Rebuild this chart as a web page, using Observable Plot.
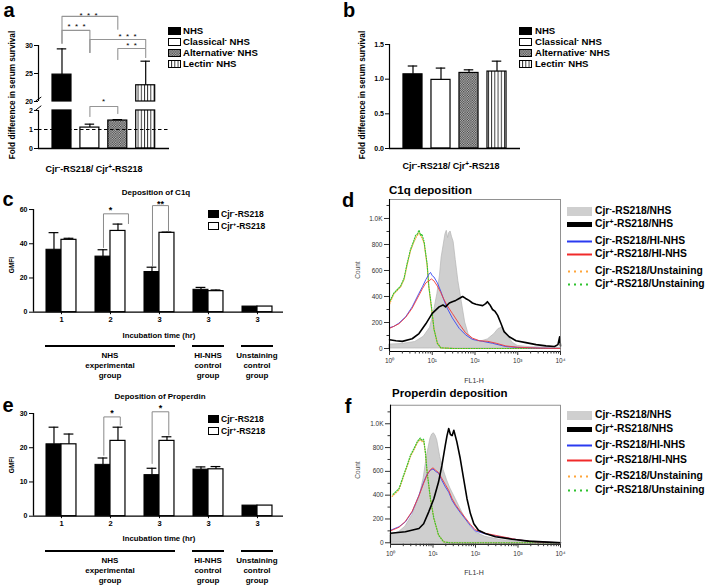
<!DOCTYPE html>
<html><head><meta charset="utf-8">
<script src="https://cdn.jsdelivr.net/npm/d3@7"></script>
<script src="https://cdn.jsdelivr.net/npm/@observablehq/plot@0.6"></script>
<style>
body{margin:0;background:#fff;}
#root{position:relative;width:709px;height:586px;overflow:hidden;font-family:"Liberation Sans",Arial,sans-serif;color:#000;}
.t{position:absolute;white-space:nowrap;line-height:1;}
.p{position:absolute;}
sup{font-size:0.72em;vertical-align:0;position:relative;top:-0.42em;font-weight:bold;}
</style></head><body>
<svg width="0" height="0" style="position:absolute">
<defs>
<pattern id="hatch" width="2.4" height="2.4" patternUnits="userSpaceOnUse"><rect width="2.4" height="2.4" fill="#c4c4c4"/><rect width="1.2" height="1.2" fill="#3a3a3a"/><rect x="1.2" y="1.2" width="1.2" height="1.2" fill="#3a3a3a"/></pattern>
<pattern id="vstripe" width="3.2" height="4" patternUnits="userSpaceOnUse"><rect width="3.2" height="4" fill="#fff"/><rect x="0" width="0.9" height="4" fill="#222"/></pattern>
</defs></svg>
<div id="root"></div>
<script>
// ================= DATA =================
const seraLabels = ["NHS", "Classical<sup>-</sup> NHS", "Alternative<sup>-</sup> NHS", "Lectin<sup>-</sup> NHS"];
const foldA = [24.8, 1.1, 1.47, 22.9];
const foldErrA = [29.4, 1.28, 1.52, 27.2];
const foldB = [1.07, 0.99, 1.09, 1.11];
const foldErrB = [1.19, 1.16, 1.135, 1.26];
const ratioLabel = "Cjr<sup>-</sup>-RS218/ Cjr<sup>+</sup>-RS218";
const sigUpperA = [
  {x1: 0, x2: 2, top: 35.2, l: 30.4, r: 32.9, label: "*  *  *", lx: 0.95, ly: 35.75},
  {x1: 0, x2: 1, top: 32.7, l: 30.4, r: 28.75, label: "*  *  *", lx: 0.52, ly: 33.75},
  {x1: 1, x2: 3, top: 31.07, l: 28.75, r: 29.64, label: "*  *  *", lx: 2.35, ly: 31.96},
  {x1: 2, x2: 3, top: 29.46, l: 27.5, r: 27.86, label: "*  *", lx: 2.49, ly: 30.36}
];
const sigLowerA = [{x1: 1, x2: 2, top: 2.21, l: 1.68, r: 1.84, label: "*", lx: 1.49, ly: 2.58}];

const strainLabels = ["Cjr<sup>-</sup>-RS218", "Cjr<sup>+</sup>-RS218"];
const timeLabels = ["1", "2", "3", "3", "3"];
const groupNames = [["NHS", "experimental", "group"], ["HI-NHS", "control", "group"], ["Unstaining", "control", "group"]];
const groupMembers = [[0, 1, 2], [3], [4]];
const c1qNeg = [36.5, 32.5, 23.5, 13.1, 3.3];
const c1qNegErr = [46.5, 36.5, 26.3, 14.5, null];
const c1qPos = [42.3, 47.5, 46.4, 12.3, 3.3];
const c1qPosErr = [43.2, 51.5, 46.8, 13.0, null];
const sigC = [
  {x1: 0.857, x2: 1.367, top: 57.5, l: 37.8, r: 51.8, label: "*", lx: 1.0, ly: 61.4},
  {x1: 1.857, x2: 2.184, top: 62.3, l: 27.0, r: 47.7, label: "**", lx: 2.02, ly: 64.9}
];
const propNeg = [21, 15, 12, 13.6, 3.1];
const propNegErr = [26, 17, 14, 14.4, null];
const propPos = [21, 22, 22, 13.7, 3.1];
const propPosErr = [24, 26, 23.2, 14.5, null];
const sigE = [
  {x1: 0.864, x2: 1.2, top: 29.0, l: 17.8, r: 26.6, label: "*", lx: 1.03, ly: 30.8},
  {x1: 1.85, x2: 2.19, top: 30.5, l: 15.4, r: 23.7, label: "*", lx: 2.02, ly: 32.4}
];

const histLabels = ["Cjr<sup>-</sup>-RS218/NHS", "Cjr<sup>+</sup>-RS218/NHS", "Cjr<sup>-</sup>-RS218/HI-NHS",
  "Cjr<sup>+</sup>-RS218/HI-NHS", "Cjr<sup>-</sup>-RS218/Unstaining", "Cjr<sup>+</sup>-RS218/Unstaining"];
const flTicks = [1, 10, 100, 1000, 10000];
const flTickLabels = ["10⁰", "10¹", "10²", "10³", "10⁴"];
const countTicks = [0, 200, 400, 600, 800, 1000];
const countLabels = ["0", "200", "400", "600", "800", "1.0K"];
// histogram series: [log10(FL1-H), count]
const dNegNHS = [[0,30],[0.3,35],[0.6,50],[0.8,90],[0.95,160],[1.05,300],[1.12,420],[1.18,560],[1.22,700],[1.27,800],[1.31,880],[1.34,905],[1.37,850],[1.40,890],[1.43,900],[1.46,860],[1.50,820],[1.55,680],[1.61,520],[1.69,360],[1.77,200],[1.85,110],[1.95,70],[2.1,50],[2.3,70],[2.45,110],[2.55,150],[2.63,160],[2.7,130],[2.78,90],[2.88,45],[3.0,20],[3.3,10],[4.0,5]];
const dPosNHS = [[0,67],[0.15,60],[0.3,55],[0.53,75],[0.69,115],[0.85,190],[1.0,270],[1.16,320],[1.25,335],[1.31,320],[1.4,350],[1.47,360],[1.55,370],[1.63,385],[1.71,400],[1.78,385],[1.86,370],[1.94,350],[2.02,340],[2.1,335],[2.18,330],[2.25,345],[2.29,360],[2.35,335],[2.41,300],[2.47,285],[2.53,255],[2.61,190],[2.68,130],[2.8,90],[2.96,60],[3.19,45],[3.43,30],[3.66,20],[3.86,15],[3.94,30],[3.98,90],[4.0,20]];
const dNegHI = [[0,160],[0.1,170],[0.22,195],[0.38,245],[0.53,320],[0.69,425],[0.77,475],[0.85,530],[0.92,570],[0.96,585],[1.0,560],[1.04,550],[1.12,505],[1.2,440],[1.27,375],[1.35,310],[1.47,235],[1.63,155],[1.78,105],[1.94,70],[2.18,55],[2.41,40],[2.72,15],[3.0,8],[3.5,3],[4.0,0]];
const dPosHI = [[0,155],[0.1,170],[0.22,190],[0.38,240],[0.53,310],[0.69,410],[0.77,460],[0.85,505],[0.92,520],[0.98,535],[1.04,520],[1.12,480],[1.2,430],[1.27,380],[1.35,330],[1.47,270],[1.63,190],[1.78,120],[1.94,80],[2.1,60],[2.3,55],[2.5,40],[2.72,20],[3.0,10],[3.5,3],[4.0,0]];
const dNegUn = [[0,340],[0.1,420],[0.26,475],[0.34,530],[0.41,640],[0.49,750],[0.57,820],[0.63,860],[0.69,890],[0.76,850],[0.81,810],[0.88,640],[0.92,470],[0.99,290],[1.04,150],[1.12,40],[1.2,5],[1.5,0],[4.0,0]];
const dPosUn = [[0,360],[0.1,425],[0.26,480],[0.34,540],[0.41,650],[0.49,760],[0.57,830],[0.61,870],[0.65,880],[0.69,910],[0.73,870],[0.76,880],[0.81,820],[0.88,650],[0.92,480],[0.99,300],[1.04,150],[1.12,40],[1.2,5],[1.5,0],[4.0,0]];
const fNegNHS = [[0,65],[0.2,90],[0.35,135],[0.51,230],[0.67,370],[0.78,540],[0.86,735],[0.94,875],[0.98,910],[1.02,920],[1.06,900],[1.1,860],[1.17,720],[1.25,610],[1.33,525],[1.41,455],[1.53,370],[1.64,290],[1.76,205],[1.88,135],[1.99,90],[2.23,50],[2.62,22],[3.0,10],[3.4,3],[4.0,0]];
const fPosNHS = [[0,80],[0.35,92],[0.67,120],[0.78,160],[0.9,260],[1.02,370],[1.13,510],[1.21,650],[1.29,820],[1.33,900],[1.37,960],[1.41,910],[1.45,900],[1.49,945],[1.56,850],[1.64,710],[1.72,540],[1.8,370],[1.88,245],[1.96,160],[2.07,105],[2.23,78],[2.47,50],[2.86,30],[3.25,14],[3.8,3],[4.0,0]];
const fNegHI = [[0,105],[0.2,135],[0.35,175],[0.51,260],[0.67,400],[0.78,510],[0.86,575],[0.94,610],[1.0,620],[1.06,600],[1.13,585],[1.2,530],[1.29,470],[1.37,425],[1.45,355],[1.53,310],[1.64,255],[1.76,200],[1.88,145],[1.99,100],[2.23,75],[2.62,48],[3.0,25],[3.4,8],[4.0,0]];
const fPosHI = [[0,100],[0.2,130],[0.35,180],[0.51,265],[0.67,395],[0.78,500],[0.86,570],[0.94,615],[1.0,630],[1.06,610],[1.13,590],[1.2,545],[1.29,490],[1.37,440],[1.45,370],[1.53,320],[1.64,265],[1.76,210],[1.88,155],[1.99,110],[2.23,80],[2.62,52],[3.0,25],[3.4,8],[4.0,0]];
const fNegUn = [[0.04,390],[0.2,445],[0.31,560],[0.39,640],[0.47,725],[0.55,780],[0.63,840],[0.7,870],[0.74,850],[0.78,860],[0.82,760],[0.86,600],[0.94,370],[1.02,205],[1.13,65],[1.25,8],[1.4,0],[4.0,0]];
const fPosUn = [[0.04,400],[0.2,455],[0.31,570],[0.39,650],[0.47,735],[0.55,790],[0.63,850],[0.7,880],[0.74,860],[0.78,870],[0.82,765],[0.86,600],[0.94,370],[1.02,205],[1.13,65],[1.25,8],[1.4,0],[4.0,0]];

// ================= STYLE / HELPERS =================
const seraFill = ["#000", "#fff", "url(#hatch)", "url(#vstripe)"];
const root = document.getElementById("root");
const FONT = "'Liberation Sans', Arial, Helvetica, sans-serif";
const styleBar = {background: "transparent", fontFamily: FONT, fontSize: "7px", fontWeight: "bold", color: "#000", overflow: "visible"};
const styleHist = {background: "transparent", fontFamily: FONT, fontSize: "6.5px", fontWeight: "normal", color: "#333", overflow: "visible"};

function place(node, left, top, w) {
  const d = document.createElement("div");
  d.className = "p"; d.style.left = left + "px"; d.style.top = top + "px"; d.style.width = w + "px";
  d.appendChild(node); root.appendChild(d); return d;
}
function text(html, x, y, o = {}) {
  const d = document.createElement("div");
  d.className = "t"; d.innerHTML = html;
  d.style.left = x + "px"; d.style.top = y + "px";
  const a = o.anchor || "middle";
  const tx = a === "middle" ? "-50%" : a === "end" ? "-100%" : "0";
  d.style.transform = `translate(${tx},-50%)` + (o.rotate ? ` rotate(${o.rotate}deg)` : "");
  d.style.fontSize = (o.size || 10) + "px";
  d.style.fontWeight = o.weight || "bold";
  if (o.color) d.style.color = o.color;
  if (o.ls) d.style.letterSpacing = o.ls;
  root.appendChild(d); return d;
}
function swatch(x, y, w, h, inner) {
  const d = document.createElement("div");
  d.className = "p"; d.style.left = x + "px"; d.style.top = y + "px";
  d.innerHTML = `<svg width="${w}" height="${h}" style="display:block;overflow:visible">${inner}</svg>`;
  root.appendChild(d);
}
function bracketPts(sig) {
  return sig.flatMap((b, k) => [[k, b.x1, b.l], [k, b.x1, b.top], [k, b.x2, b.top], [k, b.x2, b.r]]);
}

// ================= PANEL A =================
const idxA = foldA.map((_, i) => i);
const xDomA = [-0.842, 3.853];
const hiA = idxA.filter(i => foldA[i] > 2);
const loA = idxA.filter(i => foldA[i] <= 2);
const HW = 0.34, CAP = 0.17;
const aUpper = Plot.plot({
  width: 180, height: 102, marginLeft: 38, marginRight: 11, marginTop: 0, marginBottom: 1,
  x: {type: "linear", domain: xDomA, axis: null}, y: {type: "linear", domain: [20, 38.04]},
  color: {type: "identity"}, style: styleBar,
  marks: [
    Plot.rect(hiA, {x1: i => i - HW, x2: i => i + HW, y1: () => 20, y2: i => foldA[i], fill: i => seraFill[i], stroke: "#000", strokeWidth: 1.2}),
    Plot.ruleX(hiA, {x: i => i, y1: i => foldA[i], y2: i => foldErrA[i], strokeWidth: 1.2}),
    Plot.ruleY(hiA, {y: i => foldErrA[i], x1: i => i - CAP, x2: i => i + CAP, strokeWidth: 1.2}),
    Plot.line(bracketPts(sigUpperA), {x: d => d[1], y: d => d[2], z: d => d[0], stroke: "#959595", strokeWidth: 1.1}),
    Plot.text(sigUpperA, {x: d => d.lx, y: d => d.ly, text: d => d.label, fontSize: 8, fontWeight: "normal", dy: 2}),
    Plot.ruleX([xDomA[0]], {y1: () => 20, y2: () => 30, strokeWidth: 1.2}),
    Plot.link([xDomA[0]], {x1: d => d - 0.1, x2: d => d + 0.1, y1: () => 20.1, y2: () => 20.8, stroke: "#000", strokeWidth: 1}),
    Plot.axisY([20, 25, 30], {tickSize: 4, tickPadding: 1.5, label: null})
  ]
});
place(aUpper, 0, 0, 180);

const aLower = Plot.plot({
  width: 180, height: 62, marginLeft: 38, marginRight: 11, marginTop: 0, marginBottom: 4,
  x: {type: "linear", domain: xDomA, axis: null}, y: {type: "linear", domain: [0, 3.05]},
  color: {type: "identity"}, style: styleBar,
  marks: [
    Plot.rect(idxA, {x1: i => i - HW, x2: i => i + HW, y1: () => 0, y2: i => Math.min(foldA[i], 2), fill: i => seraFill[i], stroke: "#000", strokeWidth: 1.2}),
    Plot.ruleX(loA, {x: i => i, y1: i => foldA[i], y2: i => foldErrA[i], strokeWidth: 1.2}),
    Plot.ruleY(loA, {y: i => foldErrA[i], x1: i => i - CAP, x2: i => i + CAP, strokeWidth: 1.2}),
    Plot.ruleY([1], {x1: () => xDomA[0], x2: () => xDomA[1], strokeDasharray: "3.5,2.5", strokeWidth: 1.1}),
    Plot.line(bracketPts(sigLowerA), {x: d => d[1], y: d => d[2], z: d => d[0], stroke: "#959595", strokeWidth: 1.1}),
    Plot.text(sigLowerA, {x: d => d.lx, y: d => d.ly, text: d => d.label, fontSize: 8, fontWeight: "normal", dy: 2}),
    Plot.ruleX([xDomA[0]], {y1: () => 0, y2: () => 2, strokeWidth: 1.2}),
    Plot.link([xDomA[0]], {x1: d => d - 0.1, x2: d => d + 0.1, y1: () => 2.02, y2: () => 2.25, stroke: "#000", strokeWidth: 1}),
    Plot.ruleY([0], {x1: () => xDomA[0], x2: () => xDomA[1], strokeWidth: 1.3}),
    Plot.axisY([0, 1, 2], {tickSize: 4, tickPadding: 1.5, label: null})
  ]
});
place(aLower, 0, 90, 180);

// ================= PANEL B =================
const idxB = foldB.map((_, i) => i);
const xDomB = [-0.839, 3.839];
const bPlot = Plot.plot({
  width: 170, height: 160, marginLeft: 29, marginRight: 10, marginTop: 0, marginBottom: 12,
  x: {type: "linear", domain: xDomB, axis: null}, y: {type: "linear", domain: [0, 2.135]},
  color: {type: "identity"}, style: styleBar,
  marks: [
    Plot.rect(idxB, {x1: i => i - HW, x2: i => i + HW, y1: () => 0, y2: i => foldB[i], fill: i => seraFill[i], stroke: "#000", strokeWidth: 1.2}),
    Plot.ruleX(idxB, {x: i => i, y1: i => foldB[i], y2: i => foldErrB[i], strokeWidth: 1.2}),
    Plot.ruleY(idxB, {y: i => foldErrB[i], x1: i => i - CAP, x2: i => i + CAP, strokeWidth: 1.2}),
    Plot.ruleX([xDomB[0]], {y1: () => 0, y2: () => 1.5, strokeWidth: 1.2}),
    Plot.ruleY([0], {x1: () => xDomB[0], x2: () => xDomB[1], strokeWidth: 1.3}),
    Plot.axisY([0, 0.5, 1, 1.5], {tickSize: 4, tickPadding: 1.5, tickFormat: d3.format(".1f"), label: null})
  ]
});
place(bPlot, 360, 0, 170);

// legends a & b
[[168, 183], [519, 535]].forEach(([sx, tx]) => {
  seraLabels.forEach((lab, i) => {
    const yc = 31 + 11 * i;
    swatch(sx, yc - 4, 13, 8, `<rect x="0.5" y="0.5" width="12" height="7" fill="${seraFill[i]}" stroke="#000" stroke-width="1"/>`);
    text(lab, tx, yc, {anchor: "start", size: 9.6});
  });
});
text("a", 9, 10, {size: 20});
text("b", 349, 10, {size: 20});
text("Fold difference in serum survival", 13, 95, {size: 8.2, rotate: -90});
text("Fold difference in serum survival", 363, 95, {size: 8.2, rotate: -90});
text(ratioLabel, 94, 169, {size: 9});
text(ratioLabel, 451, 166, {size: 9});

// ================= PANELS C & E =================
function groupPlot(neg, negErr, pos, posErr, sig, g) {
  const idx = neg.map((_, i) => i);
  const W = 0.306, cap = 0.1;
  const eN = idx.filter(i => negErr[i] != null), eP = idx.filter(i => posErr[i] != null);
  return Plot.plot({
    width: g.w, height: g.h, marginLeft: g.mL, marginRight: g.mR, marginTop: 0, marginBottom: g.mB,
    x: {type: "linear", domain: g.xDom}, y: {type: "linear", domain: g.yDom},
    style: styleBar,
    marks: [
      Plot.rect(idx, {x1: i => i - W, x2: i => i, y1: () => 0, y2: i => neg[i], fill: "#000", stroke: "#000", strokeWidth: 1}),
      Plot.rect(idx, {x1: i => i, x2: i => i + W, y1: () => 0, y2: i => pos[i], fill: "#fff", stroke: "#000", strokeWidth: 1.2}),
      Plot.ruleX(eN, {x: i => i - W / 2, y1: i => neg[i], y2: i => negErr[i], strokeWidth: 1.2}),
      Plot.ruleY(eN, {y: i => negErr[i], x1: i => i - W / 2 - cap, x2: i => i - W / 2 + cap, strokeWidth: 1.2}),
      Plot.ruleX(eP, {x: i => i + W / 2, y1: i => pos[i], y2: i => posErr[i], strokeWidth: 1.2}),
      Plot.ruleY(eP, {y: i => posErr[i], x1: i => i + W / 2 - cap, x2: i => i + W / 2 + cap, strokeWidth: 1.2}),
      Plot.line(bracketPts(sig), {x: d => d[1], y: d => d[2], z: d => d[0], stroke: "#8a8a8a", strokeWidth: 1}),
      Plot.text(sig, {x: d => d.lx, y: d => d.ly, text: d => d.label, fontSize: 9, fontWeight: "bold", dy: 2.5}),
      Plot.ruleX([g.xDom[0]], {y1: () => 0, y2: () => g.yMax, strokeWidth: 1.3}),
      Plot.ruleY([0], {x1: () => g.xDom[0], x2: () => g.xDom[1], strokeWidth: 1.3}),
      Plot.axisY(g.yTicks, {tickSize: 4, tickPadding: 2, label: null}),
      Plot.axisX(idx, {tickSize: 2.5, tickPadding: 2, tickFormat: i => timeLabels[i], label: null, fontSize: 7.5})
    ]
  });
}
const geomC = {w: 290, h: 140, mL: 33, mR: 7, mB: 18.3, xDom: [-0.571, 4.531], yDom: [0, 71.13], yTicks: [0, 20, 40, 60], yMax: 60};
const geomE = {w: 290, h: 140, mL: 33, mR: 7, mB: 22.3, xDom: [-0.571, 4.531], yDom: [0, 34.38], yTicks: [0, 10, 20, 30], yMax: 30};
const cPlot = groupPlot(c1qNeg, c1qNegErr, c1qPos, c1qPosErr, sigC, geomC);
const ePlot = groupPlot(propNeg, propNegErr, propPos, propPosErr, sigE, geomE);
place(cPlot, 0, 190, 290);
place(ePlot, 0, 398, 290);

function groupDecor(plot, top, info) {
  const sx = plot.scale("x");
  const px = v => sx.apply(v);
  groupMembers.forEach((m, k) => {
    const x0 = px(m[0] - 0.33), x1 = px(m[m.length - 1] + 0.33);
    const d = document.createElement("div");
    d.className = "p";
    Object.assign(d.style, {left: x0 + "px", top: (info.lineY - 0.8) + "px", width: (x1 - x0) + "px", height: "1.6px", background: "#000"});
    root.appendChild(d);
    const cx = px((m[0] + m[m.length - 1]) / 2);
    groupNames[k].forEach((s, j) => text(s, cx, info.nameY + 10 * j, {size: 8}));
  });
  text("Incubation time (hr)", px(2), info.labelY, {size: 7.8});
  text("GMFI", 12, info.gmfiY, {size: 6.5, rotate: -90});
  strainLabels.forEach((lab, i) => {
    const yc = info.legY + 11.7 * i;
    swatch(208, yc - 4, 11, 8, `<rect x="0.5" y="0.5" width="10" height="7" fill="${i ? "#fff" : "#000"}" stroke="#000" stroke-width="1"/>`);
    text(lab, 221, yc, {anchor: "start", size: 8.5});
  });
  text(info.title, info.titleX, info.titleY, {size: 8});
}
groupDecor(cPlot, 190, {lineY: 346, nameY: 356, labelY: 336, gmfiY: 265, legY: 214, title: "Deposition of C1q", titleX: 156, titleY: 193});
groupDecor(ePlot, 398, {lineY: 551, nameY: 561, labelY: 539, gmfiY: 465, legY: 419, title: "Deposition of Properdin", titleX: 160, titleY: 397});
text("c", 8, 199, {size: 20});
text("e", 8, 405, {size: 20});

// ================= PANELS D & F =================
const minorX = [1, 10, 100, 1000].flatMap(b => [2, 3, 4, 5, 6, 7, 8, 9].map(k => k * b));
const minorY = [100, 300, 500, 700, 900, 1100];
function histPlot(s, g) {
  const X = d => 10 ** d[0], Y = d => d[1];
  return Plot.plot({
    width: 210, height: g.h, marginLeft: g.mL, marginRight: 5, marginTop: g.mT, marginBottom: g.mB,
    x: {type: "log", domain: [1, 1e4]}, y: {type: "linear", domain: g.yDom},
    style: styleHist,
    marks: [
      Plot.areaY(s.negNHS, {x: X, y: Y, fill: "#cfcfcf", stroke: "#b5b5b5", strokeWidth: 0.7}),
      Plot.line(s.negUn, {x: X, y: Y, stroke: "#ffa53a", strokeWidth: 1.2, strokeDasharray: "1,1.6"}),
      Plot.line(s.posUn, {x: X, y: Y, stroke: "#33c633", strokeWidth: 1.2, strokeDasharray: "1,1.6", strokeDashoffset: 1.3}),
      Plot.line(s.negHI, {x: X, y: Y, stroke: "#3a48f2", strokeWidth: 0.9}),
      Plot.line(s.posHI, {x: X, y: Y, stroke: "#f03a3a", strokeWidth: 0.9}),
      Plot.line(s.posNHS, {x: X, y: Y, stroke: "#000", strokeWidth: 1.6}),
      Plot.frame({stroke: "#777", strokeWidth: 0.8}),
      Plot.ruleX([1], {stroke: "#000", strokeWidth: 1.1}),
      Plot.ruleY([g.yDom[0]], {stroke: "#000", strokeWidth: 1.1}),
      Plot.axisX(flTicks, {tickSize: 4, tickPadding: 3, tickFormat: v => flTickLabels[Math.round(Math.log10(v))], label: null}),
      Plot.axisX(minorX, {tickSize: 2.5, tickFormat: () => "", label: null}),
      Plot.axisY(countTicks, {tickSize: 5, tickPadding: 2, tickFormat: v => countLabels[countTicks.indexOf(v)], label: null}),
      Plot.axisY(minorY, {tickSize: 2.5, tickFormat: () => "", label: null})
    ]
  });
}
const dPlot = histPlot({negNHS: dNegNHS, posNHS: dPosNHS, negHI: dNegHI, posHI: dPosHI, negUn: dNegUn, posUn: dPosUn},
  {h: 175, mL: 34, mT: 3, mB: 20, yDom: [-23, 1146]});
const fPlot = histPlot({negNHS: fNegNHS, posNHS: fPosNHS, negHI: fNegHI, posHI: fPosHI, negUn: fNegUn, posUn: fPosUn},
  {h: 165, mL: 35, mT: 4.7, mB: 21.3, yDom: [-12, 1156]});
place(dPlot, 355, 196, 210);
place(fPlot, 355, 400, 210);

const histSwatches = [
  `<rect x="0" y="0" width="25" height="9" fill="#cfcfcf"/>`,
  `<rect x="0" y="2" width="25" height="5" fill="#000"/>`,
  `<line x1="0" x2="25" y1="4.5" y2="4.5" stroke="#2a3bf0" stroke-width="2"/>`,
  `<line x1="0" x2="25" y1="4.5" y2="4.5" stroke="#f02a2a" stroke-width="2"/>`,
  `<line x1="1" x2="25" y1="4.5" y2="4.5" stroke="#ffa53a" stroke-width="2" stroke-dasharray="2,4"/>`,
  `<line x1="1" x2="25" y1="4.5" y2="4.5" stroke="#2ec22e" stroke-width="2" stroke-dasharray="2,4"/>`
];
function histDecor(rows, info) {
  histLabels.forEach((lab, i) => {
    swatch(567, rows[i] - 4.5, 25, 9, histSwatches[i]);
    text(lab, 595, rows[i], {anchor: "start", size: 10.3});
  });
  text(info.title, info.titleX, info.titleY, {anchor: "start", size: 11.5});
  text("Count", 358, info.countY, {size: 6.5, weight: "normal", rotate: -90, color: "#555"});
  text("FL1-H", 474, info.flY, {size: 7, weight: "normal", color: "#333"});
  text(info.letter, 348, info.letterY, {size: 20});
}
histDecor([211, 224, 241, 254, 271, 284], {title: "C1q deposition", titleX: 389, titleY: 191, countY: 270, flY: 380, letter: "d", letterY: 200});
histDecor([415, 429, 445, 460, 476, 490], {title: "Properdin deposition", titleX: 392, titleY: 394, countY: 470, flY: 572, letter: "f", letterY: 406});
</script>
</body></html>
